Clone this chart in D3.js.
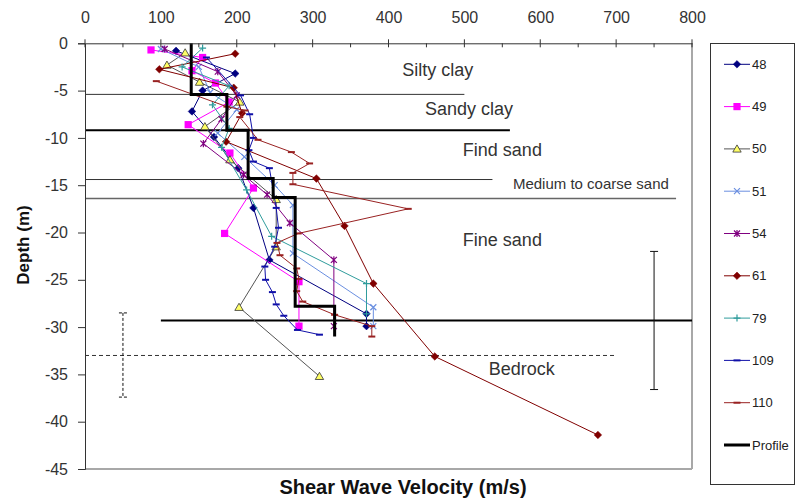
<!DOCTYPE html>
<html>
<head>
<meta charset="utf-8">
<script src="https://cdn.jsdelivr.net/npm/d3@7/dist/d3.min.js"></script>
<style>
  html, body { margin: 0; padding: 0; background: #fff; }
  svg { display: block; font-family: "Liberation Sans", Arial, sans-serif; }
</style>
</head>
<body>
<svg id="chart" width="797" height="498"></svg>
<script>
// ---- axis ticks ----
const velTicks = [0, 100, 200, 300, 400, 500, 600, 700, 800];
const depthTicks = [0, -5, -10, -15, -20, -25, -30, -35, -40, -45];

// ---- shear wave velocity profiles per sounding (velocity m/s, depth m) ----
const s48Vel   = [120, 198, 155, 141, 170, 202, 222, 243, 371, 371];
const s48Depth = [-0.8, -3.2, -5.0, -7.2, -9.9, -13.2, -17.4, -22.9, -28.6, -29.9];

const s49Vel   = [87, 155, 141, 172, 190, 136, 191, 222, 184, 282, 282];
const s49Depth = [-0.7, -1.5, -2.9, -4.2, -6.2, -8.6, -11.6, -15.3, -20.1, -25.2, -29.9];

const s50Vel   = [132, 108, 151, 204, 158, 191, 252, 252, 203, 309];
const s50Depth = [-1.0, -2.3, -4.1, -6.2, -8.8, -12.3, -16.5, -21.5, -27.9, -35.2];

const s51Vel   = [100, 150, 165, 200, 175, 210, 250, 274, 274, 380, 380];
const s51Depth = [-0.6, -2.5, -5.2, -7.0, -9.5, -12.0, -15.0, -17.1, -22.2, -27.9, -29.9];

const s54Vel   = [105, 175, 200, 180, 156, 209, 240, 270, 328, 328];
const s54Depth = [-0.6, -3.0, -5.5, -8.0, -10.6, -13.9, -16.0, -19.0, -22.9, -29.9];

const s61Vel   = [198, 98, 196, 207, 186, 305, 342, 380, 461, 676];
const s61Depth = [-1.1, -2.75, -4.7, -7.4, -10.4, -14.3, -19.3, -25.4, -33.1, -41.4];

const s79Vel   = [155, 128, 190, 168, 190, 180, 213, 246, 371, 371];
const s79Depth = [-0.5, -2.5, -4.5, -6.5, -9.0, -11.0, -15.5, -20.4, -25.4, -28.6];

const s109Vel   = [160, 205, 217, 222, 216, 222, 243, 252, 255, 250, 237, 238, 247, 252, 262, 280, 309];
const s109Depth = [-1.5, -5.5, -7.5, -10.0, -11.3, -12.5, -13.2, -17.4, -19.5, -21.5, -23.6, -25.0, -26.3, -27.6, -28.8, -30.3, -30.8];

const s110Vel   = [94, 187, 211, 204, 228, 272, 296, 274, 274, 426, 281, 253, 257, 279, 282, 279, 287, 329, 378, 378];
const s110Depth = [-4.0, -6.7, -7.1, -7.8, -10.2, -11.5, -12.7, -13.7, -14.9, -17.5, -20.1, -21.1, -22.4, -23.8, -24.9, -26.2, -27.3, -28.7, -29.9, -31.0];

// ---- simplified layered profile ----
const profileVel   = [140, 140, 187, 187, 215, 215, 248, 248, 277, 277, 329, 329];
const profileDepth = [0, -5.4, -5.4, -9.2, -9.2, -14.3, -14.3, -16.3, -16.3, -27.8, -27.8, -31.0];

// ---- soil layers ----
const layerNames = ["Silty clay", "Sandy clay", "Find sand", "Medium to coarse sand", "Fine sand", "Bedrock"];
const boundaryDepth = [-5.4, -9.2, -14.4, -16.4, -29.3, -33.0];
const boundaryFrom  = [0, 0, 0, 0, 100, 0];
const boundaryTo    = [500, 560, 537, 779, 800, 701];

// ranges of bedrock depth (dashed and solid bars)
const rangeVel  = [50, 750];
const rangeTop  = [-28.5, -22.0];
const rangeBot  = [-37.4, -36.6];

const seriesNames = ["48", "49", "50", "51", "54", "61", "79", "109", "110"];

// ---- chart setup ----
const svg = d3.select("#chart");
const x = d3.scaleLinear().domain([0, 800]).range([85, 692]);
const y = d3.scaleLinear().domain([0, -45]).range([43.3, 469]);

const styles = {
  "48":  { color: "#000080", marker: "diamond" },
  "49":  { color: "#ff00ff", marker: "square" },
  "50":  { color: "#555555", marker: "triangle" },
  "51":  { color: "#6a8fe0", marker: "x" },
  "54":  { color: "#800080", marker: "star" },
  "61":  { color: "#800000", marker: "diamond" },
  "79":  { color: "#2f9c9c", marker: "plus" },
  "109": { color: "#1010a8", marker: "dash" },
  "110": { color: "#992222", marker: "dash" }
};

const seriesData = {
  "48": [s48Vel, s48Depth], "49": [s49Vel, s49Depth], "50": [s50Vel, s50Depth],
  "51": [s51Vel, s51Depth], "54": [s54Vel, s54Depth], "61": [s61Vel, s61Depth],
  "79": [s79Vel, s79Depth], "109": [s109Vel, s109Depth], "110": [s110Vel, s110Depth]
};

function drawMarker(g, type, color, cx, cy) {
  const m = g.append("g").attr("transform", `translate(${cx},${cy})`);
  if (type === "diamond") {
    m.append("path").attr("d", "M0,-3.8L3.8,0L0,3.8L-3.8,0Z").attr("fill", color).attr("stroke", color).attr("stroke-width", 0.5);
  } else if (type === "square") {
    m.append("rect").attr("x", -3.6).attr("y", -3.6).attr("width", 7.2).attr("height", 7.2).attr("fill", color);
  } else if (type === "triangle") {
    m.append("path").attr("d", "M0,-4L4.2,3.2L-4.2,3.2Z").attr("fill", "#ffff66").attr("stroke", "#333").attr("stroke-width", 0.8);
  } else if (type === "x") {
    m.append("path").attr("d", "M-3,-3L3,3M-3,3L3,-3").attr("stroke", color).attr("stroke-width", 1.2);
  } else if (type === "star") {
    m.append("path").attr("d", "M-3,-3L3,3M-3,3L3,-3M0,-3.6L0,3.6").attr("stroke", color).attr("stroke-width", 1.2);
  } else if (type === "plus") {
    m.append("path").attr("d", "M-3.5,0L3.5,0M0,-3.5L0,3.5").attr("stroke", color).attr("stroke-width", 1.2);
  } else if (type === "dash") {
    m.append("path").attr("d", "M-3.5,0L3.5,0").attr("stroke", color).attr("stroke-width", 2);
  }
}

// ---- plot frame ----
svg.append("line").attr("x1", x(800)).attr("x2", x(800)).attr("y1", y(0)).attr("y2", y(-45))
  .attr("stroke", "#a8a8a8").attr("stroke-width", 2);
svg.append("line").attr("x1", x(0)).attr("x2", x(800)).attr("y1", y(-45)).attr("y2", y(-45))
  .attr("stroke", "#a8a8a8").attr("stroke-width", 2);

// ---- layer boundaries ----
const bWidths = [1, 2, 1, 1.5, 2, 1];
const bColors = ["#333", "#000", "#333", "#666", "#000", "#333"];
boundaryDepth.forEach((d, i) => {
  const l = svg.append("line")
    .attr("x1", x(boundaryFrom[i])).attr("x2", x(boundaryTo[i]))
    .attr("y1", y(d)).attr("y2", y(d))
    .attr("stroke", bColors[i]).attr("stroke-width", bWidths[i]);
  if (i === 5) l.attr("stroke-dasharray", "4,3");
});

// ---- bedrock depth ranges ----
rangeVel.forEach((v, i) => {
  const g = svg.append("g").attr("stroke", "#111").attr("stroke-width", 1);
  if (i === 0) g.attr("stroke-dasharray", "3,2");
  g.append("line").attr("x1", x(v)).attr("x2", x(v)).attr("y1", y(rangeTop[i])).attr("y2", y(rangeBot[i]));
  [rangeTop[i], rangeBot[i]].forEach(d => {
    g.append("line").attr("x1", x(v) - 4).attr("x2", x(v) + 4).attr("y1", y(d)).attr("y2", y(d));
  });
});

// ---- layer labels ----
const labelVel = [418, 448, 498, 564, 498, 532];
const labelDepth = [-3.45, -7.55, -11.9, -15.4, -21.4, -35.1];
layerNames.forEach((t, i) => {
  svg.append("text").attr("x", x(labelVel[i])).attr("y", y(labelDepth[i]))
    .attr("font-size", i === 3 ? 15 : 18).attr("fill", "#333").text(t);
});

// ---- series ----
const line = d3.line().x(d => x(d[0])).y(d => y(d[1]));
seriesNames.forEach(name => {
  const [vs, ds] = seriesData[name];
  const pts = vs.map((v, i) => [v, ds[i]]);
  const st = styles[name];
  const g = svg.append("g");
  g.append("path").datum(pts).attr("d", line).attr("fill", "none")
    .attr("stroke", st.color).attr("stroke-width", 1);
  pts.forEach(p => drawMarker(g, st.marker, st.color, x(p[0]), y(p[1])));
});

// ---- layered profile ----
const profPts = profileVel.map((v, i) => [v, profileDepth[i]]);
svg.append("path").datum(profPts).attr("d", line).attr("fill", "none")
  .attr("stroke", "#000").attr("stroke-width", 3);

// ---- top axis ----
const topAxis = svg.append("g").attr("transform", `translate(0,${y(0)})`)
  .call(d3.axisTop(x).tickValues(velTicks).tickSize(0).tickPadding(20));
topAxis.select(".domain").attr("stroke", "#333");
topAxis.selectAll("text").attr("font-size", 16).attr("fill", "#333")
  .attr("font-family", "Liberation Sans, Arial, sans-serif");
velTicks.forEach(v => {
  svg.append("line").attr("x1", x(v)).attr("x2", x(v)).attr("y1", y(0) - 4).attr("y2", y(0) + 4).attr("stroke", "#333");
});
d3.range(50, 800, 100).forEach(v => {
  svg.append("line").attr("x1", x(v)).attr("x2", x(v)).attr("y1", y(0)).attr("y2", y(0) + 4).attr("stroke", "#333");
});

// ---- left axis ----
const leftAxis = svg.append("g").attr("transform", `translate(${x(0)},0)`)
  .call(d3.axisLeft(y).tickValues(depthTicks).tickSize(7).tickPadding(10).tickFormat(d => String(d)));
leftAxis.select(".domain").attr("stroke", "#333");
leftAxis.selectAll("line").attr("stroke", "#333");
leftAxis.selectAll("text").attr("font-size", 16).attr("fill", "#333")
  .attr("font-family", "Liberation Sans, Arial, sans-serif");

// ---- axis titles ----
svg.append("text").attr("x", 403).attr("y", 494).attr("text-anchor", "middle")
  .attr("font-size", 20).attr("font-weight", "bold").attr("fill", "#111")
  .text("Shear Wave Velocity (m/s)");
svg.append("text").attr("transform", "translate(29,245) rotate(-90)").attr("text-anchor", "middle")
  .attr("font-size", 17).attr("font-weight", "bold").attr("fill", "#111")
  .text("Depth (m)");

// ---- legend ----
const legend = svg.append("g");
legend.append("rect").attr("x", 710.5).attr("y", 43.5).attr("width", 84).attr("height", 441)
  .attr("fill", "#fff").attr("stroke", "#333").attr("stroke-width", 1);
const legendItems = seriesNames.concat(["Profile"]);
legendItems.forEach((name, i) => {
  const cy = 64.3 + i * 42.3;
  const isProfile = name === "Profile";
  const color = isProfile ? "#000" : styles[name].color;
  legend.append("line").attr("x1", 724).attr("x2", 750).attr("y1", cy).attr("y2", cy)
    .attr("stroke", color).attr("stroke-width", isProfile ? 3 : 1);
  if (!isProfile) drawMarker(legend, styles[name].marker, color, 737, cy);
  legend.append("text").attr("x", 752).attr("y", cy).attr("dy", "0.35em")
    .attr("font-size", 13).attr("fill", "#222").text(name);
});
</script>
</body>
</html>
